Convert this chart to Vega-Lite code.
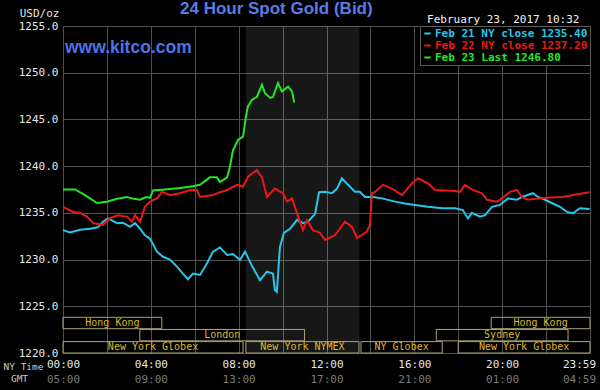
{
  "$schema": "https://vega.github.io/schema/vega-lite/v6.json",
  "width": 527,
  "height": 327,
  "autosize": {"type": "none"},
  "padding": {"left": 63, "top": 26, "right": 10, "bottom": 37},
  "background": "#000000",
  "config": {
    "view": {"stroke": "#5c5c5c", "strokeWidth": 1},
    "font": "DejaVu Sans Mono"
  },
  "title": {
    "text": "24 Hour Spot Gold (Bid)",
    "anchor": "start",
    "frame": "group",
    "dx": 117,
    "dy": 15,
    "offset": 4,
    "color": "#5b7be6",
    "font": "Liberation Sans",
    "fontSize": 17,
    "fontWeight": "bold"
  },
  "datasets": {
    "prices": [
      {"series": "Feb 21 NY close 1235.40", "hour": 0, "price": 1233.15},
      {"series": "Feb 21 NY close 1235.40", "hour": 0.32, "price": 1232.9},
      {"series": "Feb 21 NY close 1235.40", "hour": 0.77, "price": 1233.2},
      {"series": "Feb 21 NY close 1235.40", "hour": 1.23, "price": 1233.3},
      {"series": "Feb 21 NY close 1235.40", "hour": 1.59, "price": 1233.45},
      {"series": "Feb 21 NY close 1235.40", "hour": 1.82, "price": 1234.05},
      {"series": "Feb 21 NY close 1235.40", "hour": 2.05, "price": 1234.4},
      {"series": "Feb 21 NY close 1235.40", "hour": 2.46, "price": 1233.9},
      {"series": "Feb 21 NY close 1235.40", "hour": 2.73, "price": 1233.95},
      {"series": "Feb 21 NY close 1235.40", "hour": 3.05, "price": 1233.5},
      {"series": "Feb 21 NY close 1235.40", "hour": 3.28, "price": 1233.9},
      {"series": "Feb 21 NY close 1235.40", "hour": 3.51, "price": 1233.3},
      {"series": "Feb 21 NY close 1235.40", "hour": 3.73, "price": 1232.6},
      {"series": "Feb 21 NY close 1235.40", "hour": 3.96, "price": 1232.25},
      {"series": "Feb 21 NY close 1235.40", "hour": 4.28, "price": 1230.85},
      {"series": "Feb 21 NY close 1235.40", "hour": 4.55, "price": 1230.3},
      {"series": "Feb 21 NY close 1235.40", "hour": 4.87, "price": 1230.0},
      {"series": "Feb 21 NY close 1235.40", "hour": 5.19, "price": 1229.25},
      {"series": "Feb 21 NY close 1235.40", "hour": 5.46, "price": 1228.5},
      {"series": "Feb 21 NY close 1235.40", "hour": 5.69, "price": 1227.9},
      {"series": "Feb 21 NY close 1235.40", "hour": 5.92, "price": 1228.5},
      {"series": "Feb 21 NY close 1235.40", "hour": 6.24, "price": 1228.35},
      {"series": "Feb 21 NY close 1235.40", "hour": 6.56, "price": 1229.6},
      {"series": "Feb 21 NY close 1235.40", "hour": 6.83, "price": 1230.85},
      {"series": "Feb 21 NY close 1235.40", "hour": 7.15, "price": 1231.3},
      {"series": "Feb 21 NY close 1235.40", "hour": 7.47, "price": 1230.5},
      {"series": "Feb 21 NY close 1235.40", "hour": 7.74, "price": 1230.6},
      {"series": "Feb 21 NY close 1235.40", "hour": 8.06, "price": 1229.95},
      {"series": "Feb 21 NY close 1235.40", "hour": 8.29, "price": 1230.85},
      {"series": "Feb 21 NY close 1235.40", "hour": 8.61, "price": 1229.3},
      {"series": "Feb 21 NY close 1235.40", "hour": 8.97, "price": 1227.8},
      {"series": "Feb 21 NY close 1235.40", "hour": 9.29, "price": 1228.7},
      {"series": "Feb 21 NY close 1235.40", "hour": 9.56, "price": 1228.5},
      {"series": "Feb 21 NY close 1235.40", "hour": 9.65, "price": 1226.75},
      {"series": "Feb 21 NY close 1235.40", "hour": 9.74, "price": 1226.55},
      {"series": "Feb 21 NY close 1235.40", "hour": 9.88, "price": 1231.35},
      {"series": "Feb 21 NY close 1235.40", "hour": 10.06, "price": 1232.85},
      {"series": "Feb 21 NY close 1235.40", "hour": 10.34, "price": 1233.3},
      {"series": "Feb 21 NY close 1235.40", "hour": 10.66, "price": 1234.25},
      {"series": "Feb 21 NY close 1235.40", "hour": 10.93, "price": 1233.9},
      {"series": "Feb 21 NY close 1235.40", "hour": 11.16, "price": 1234.05},
      {"series": "Feb 21 NY close 1235.40", "hour": 11.48, "price": 1234.9},
      {"series": "Feb 21 NY close 1235.40", "hour": 11.66, "price": 1237.2},
      {"series": "Feb 21 NY close 1235.40", "hour": 11.93, "price": 1237.25},
      {"series": "Feb 21 NY close 1235.40", "hour": 12.25, "price": 1237.1},
      {"series": "Feb 21 NY close 1235.40", "hour": 12.48, "price": 1237.6},
      {"series": "Feb 21 NY close 1235.40", "hour": 12.7, "price": 1238.7},
      {"series": "Feb 21 NY close 1235.40", "hour": 12.98, "price": 1238.0},
      {"series": "Feb 21 NY close 1235.40", "hour": 13.3, "price": 1237.25},
      {"series": "Feb 21 NY close 1235.40", "hour": 13.52, "price": 1237.25},
      {"series": "Feb 21 NY close 1235.40", "hour": 13.75, "price": 1236.7},
      {"series": "Feb 21 NY close 1235.40", "hour": 14.12, "price": 1236.7},
      {"series": "Feb 21 NY close 1235.40", "hour": 14.53, "price": 1236.55},
      {"series": "Feb 21 NY close 1235.40", "hour": 15.12, "price": 1236.2},
      {"series": "Feb 21 NY close 1235.40", "hour": 15.57, "price": 1236.0},
      {"series": "Feb 21 NY close 1235.40", "hour": 16.03, "price": 1235.85},
      {"series": "Feb 21 NY close 1235.40", "hour": 16.62, "price": 1235.65},
      {"series": "Feb 21 NY close 1235.40", "hour": 17.26, "price": 1235.5},
      {"series": "Feb 21 NY close 1235.40", "hour": 17.85, "price": 1235.5},
      {"series": "Feb 21 NY close 1235.40", "hour": 18.21, "price": 1235.3},
      {"series": "Feb 21 NY close 1235.40", "hour": 18.44, "price": 1234.4},
      {"series": "Feb 21 NY close 1235.40", "hour": 18.62, "price": 1235.0},
      {"series": "Feb 21 NY close 1235.40", "hour": 18.99, "price": 1234.6},
      {"series": "Feb 21 NY close 1235.40", "hour": 19.22, "price": 1234.75},
      {"series": "Feb 21 NY close 1235.40", "hour": 19.54, "price": 1235.65},
      {"series": "Feb 21 NY close 1235.40", "hour": 19.9, "price": 1235.85},
      {"series": "Feb 21 NY close 1235.40", "hour": 20.26, "price": 1236.55},
      {"series": "Feb 21 NY close 1235.40", "hour": 20.67, "price": 1236.4},
      {"series": "Feb 21 NY close 1235.40", "hour": 20.9, "price": 1236.7},
      {"series": "Feb 21 NY close 1235.40", "hour": 21.4, "price": 1237.1},
      {"series": "Feb 21 NY close 1235.40", "hour": 21.63, "price": 1236.7},
      {"series": "Feb 21 NY close 1235.40", "hour": 21.95, "price": 1236.4},
      {"series": "Feb 21 NY close 1235.40", "hour": 22.31, "price": 1236.0},
      {"series": "Feb 21 NY close 1235.40", "hour": 22.63, "price": 1235.65},
      {"series": "Feb 21 NY close 1235.40", "hour": 22.95, "price": 1235.1},
      {"series": "Feb 21 NY close 1235.40", "hour": 23.22, "price": 1234.95},
      {"series": "Feb 21 NY close 1235.40", "hour": 23.54, "price": 1235.5},
      {"series": "Feb 21 NY close 1235.40", "hour": 23.98, "price": 1235.4},
      {"series": "Feb 22 NY close 1237.20", "hour": 0, "price": 1235.65},
      {"series": "Feb 22 NY close 1237.20", "hour": 0.46, "price": 1235.1},
      {"series": "Feb 22 NY close 1237.20", "hour": 0.77, "price": 1235.0},
      {"series": "Feb 22 NY close 1237.20", "hour": 1.09, "price": 1234.6},
      {"series": "Feb 22 NY close 1237.20", "hour": 1.37, "price": 1233.9},
      {"series": "Feb 22 NY close 1237.20", "hour": 1.82, "price": 1233.7},
      {"series": "Feb 22 NY close 1237.20", "hour": 2.14, "price": 1234.45},
      {"series": "Feb 22 NY close 1237.20", "hour": 2.5, "price": 1234.75},
      {"series": "Feb 22 NY close 1237.20", "hour": 2.91, "price": 1234.6},
      {"series": "Feb 22 NY close 1237.20", "hour": 3.14, "price": 1234.05},
      {"series": "Feb 22 NY close 1237.20", "hour": 3.28, "price": 1234.75},
      {"series": "Feb 22 NY close 1237.20", "hour": 3.51, "price": 1234.05},
      {"series": "Feb 22 NY close 1237.20", "hour": 3.73, "price": 1235.65},
      {"series": "Feb 22 NY close 1237.20", "hour": 3.96, "price": 1236.2},
      {"series": "Feb 22 NY close 1237.20", "hour": 4.28, "price": 1236.55},
      {"series": "Feb 22 NY close 1237.20", "hour": 4.51, "price": 1237.25},
      {"series": "Feb 22 NY close 1237.20", "hour": 4.87, "price": 1236.9},
      {"series": "Feb 22 NY close 1237.20", "hour": 5.33, "price": 1237.1},
      {"series": "Feb 22 NY close 1237.20", "hour": 5.78, "price": 1237.45},
      {"series": "Feb 22 NY close 1237.20", "hour": 6.1, "price": 1237.45},
      {"series": "Feb 22 NY close 1237.20", "hour": 6.24, "price": 1236.7},
      {"series": "Feb 22 NY close 1237.20", "hour": 6.83, "price": 1236.9},
      {"series": "Feb 22 NY close 1237.20", "hour": 7.15, "price": 1237.2},
      {"series": "Feb 22 NY close 1237.20", "hour": 7.47, "price": 1237.45},
      {"series": "Feb 22 NY close 1237.20", "hour": 7.92, "price": 1238.0},
      {"series": "Feb 22 NY close 1237.20", "hour": 8.2, "price": 1237.8},
      {"series": "Feb 22 NY close 1237.20", "hour": 8.42, "price": 1238.85},
      {"series": "Feb 22 NY close 1237.20", "hour": 8.83, "price": 1239.6},
      {"series": "Feb 22 NY close 1237.20", "hour": 9.06, "price": 1238.8},
      {"series": "Feb 22 NY close 1237.20", "hour": 9.29, "price": 1236.7},
      {"series": "Feb 22 NY close 1237.20", "hour": 9.65, "price": 1237.6},
      {"series": "Feb 22 NY close 1237.20", "hour": 10.02, "price": 1237.1},
      {"series": "Feb 22 NY close 1237.20", "hour": 10.2, "price": 1236.2},
      {"series": "Feb 22 NY close 1237.20", "hour": 10.43, "price": 1236.55},
      {"series": "Feb 22 NY close 1237.20", "hour": 10.66, "price": 1234.95},
      {"series": "Feb 22 NY close 1237.20", "hour": 10.93, "price": 1233.15},
      {"series": "Feb 22 NY close 1237.20", "hour": 11.11, "price": 1234.2},
      {"series": "Feb 22 NY close 1237.20", "hour": 11.38, "price": 1233.15},
      {"series": "Feb 22 NY close 1237.20", "hour": 11.7, "price": 1232.85},
      {"series": "Feb 22 NY close 1237.20", "hour": 11.93, "price": 1232.1},
      {"series": "Feb 22 NY close 1237.20", "hour": 12.39, "price": 1232.6},
      {"series": "Feb 22 NY close 1237.20", "hour": 12.84, "price": 1234.05},
      {"series": "Feb 22 NY close 1237.20", "hour": 13.16, "price": 1233.5},
      {"series": "Feb 22 NY close 1237.20", "hour": 13.39, "price": 1232.3},
      {"series": "Feb 22 NY close 1237.20", "hour": 13.84, "price": 1233.0},
      {"series": "Feb 22 NY close 1237.20", "hour": 13.98, "price": 1233.7},
      {"series": "Feb 22 NY close 1237.20", "hour": 14.07, "price": 1237.1},
      {"series": "Feb 22 NY close 1237.20", "hour": 14.21, "price": 1237.25},
      {"series": "Feb 22 NY close 1237.20", "hour": 14.57, "price": 1238.0},
      {"series": "Feb 22 NY close 1237.20", "hour": 14.98, "price": 1237.6},
      {"series": "Feb 22 NY close 1237.20", "hour": 15.44, "price": 1236.9},
      {"series": "Feb 22 NY close 1237.20", "hour": 15.89, "price": 1238.15},
      {"series": "Feb 22 NY close 1237.20", "hour": 16.17, "price": 1238.7},
      {"series": "Feb 22 NY close 1237.20", "hour": 16.62, "price": 1238.15},
      {"series": "Feb 22 NY close 1237.20", "hour": 16.94, "price": 1237.45},
      {"series": "Feb 22 NY close 1237.20", "hour": 17.85, "price": 1237.35},
      {"series": "Feb 22 NY close 1237.20", "hour": 18.08, "price": 1237.25},
      {"series": "Feb 22 NY close 1237.20", "hour": 18.31, "price": 1238.0},
      {"series": "Feb 22 NY close 1237.20", "hour": 18.67, "price": 1237.45},
      {"series": "Feb 22 NY close 1237.20", "hour": 19.08, "price": 1237.1},
      {"series": "Feb 22 NY close 1237.20", "hour": 19.31, "price": 1236.4},
      {"series": "Feb 22 NY close 1237.20", "hour": 19.76, "price": 1236.2},
      {"series": "Feb 22 NY close 1237.20", "hour": 19.99, "price": 1236.55},
      {"series": "Feb 22 NY close 1237.20", "hour": 20.36, "price": 1237.25},
      {"series": "Feb 22 NY close 1237.20", "hour": 20.67, "price": 1237.45},
      {"series": "Feb 22 NY close 1237.20", "hour": 20.9, "price": 1236.7},
      {"series": "Feb 22 NY close 1237.20", "hour": 21.17, "price": 1236.4},
      {"series": "Feb 22 NY close 1237.20", "hour": 21.72, "price": 1236.55},
      {"series": "Feb 22 NY close 1237.20", "hour": 22.18, "price": 1236.65},
      {"series": "Feb 22 NY close 1237.20", "hour": 22.77, "price": 1236.7},
      {"series": "Feb 22 NY close 1237.20", "hour": 23.41, "price": 1237.0},
      {"series": "Feb 22 NY close 1237.20", "hour": 23.98, "price": 1237.2},
      {"series": "Feb 23 Last 1246.80", "hour": 0, "price": 1237.5},
      {"series": "Feb 23 Last 1246.80", "hour": 0.55, "price": 1237.5},
      {"series": "Feb 23 Last 1246.80", "hour": 1.0, "price": 1236.9},
      {"series": "Feb 23 Last 1246.80", "hour": 1.55, "price": 1236.05},
      {"series": "Feb 23 Last 1246.80", "hour": 2.0, "price": 1236.2},
      {"series": "Feb 23 Last 1246.80", "hour": 2.46, "price": 1236.5},
      {"series": "Feb 23 Last 1246.80", "hour": 2.91, "price": 1236.7},
      {"series": "Feb 23 Last 1246.80", "hour": 3.23, "price": 1236.5},
      {"series": "Feb 23 Last 1246.80", "hour": 3.51, "price": 1236.4},
      {"series": "Feb 23 Last 1246.80", "hour": 3.78, "price": 1236.7},
      {"series": "Feb 23 Last 1246.80", "hour": 3.96, "price": 1236.6},
      {"series": "Feb 23 Last 1246.80", "hour": 4.1, "price": 1237.4},
      {"series": "Feb 23 Last 1246.80", "hour": 4.64, "price": 1237.5},
      {"series": "Feb 23 Last 1246.80", "hour": 5.33, "price": 1237.65},
      {"series": "Feb 23 Last 1246.80", "hour": 5.78, "price": 1237.8},
      {"series": "Feb 23 Last 1246.80", "hour": 6.24, "price": 1238.0},
      {"series": "Feb 23 Last 1246.80", "hour": 6.69, "price": 1238.8},
      {"series": "Feb 23 Last 1246.80", "hour": 7.01, "price": 1238.8},
      {"series": "Feb 23 Last 1246.80", "hour": 7.15, "price": 1238.3},
      {"series": "Feb 23 Last 1246.80", "hour": 7.47, "price": 1238.8},
      {"series": "Feb 23 Last 1246.80", "hour": 7.6, "price": 1239.9},
      {"series": "Feb 23 Last 1246.80", "hour": 7.74, "price": 1241.7},
      {"series": "Feb 23 Last 1246.80", "hour": 7.97, "price": 1242.8},
      {"series": "Feb 23 Last 1246.80", "hour": 8.2, "price": 1243.15},
      {"series": "Feb 23 Last 1246.80", "hour": 8.33, "price": 1245.3},
      {"series": "Feb 23 Last 1246.80", "hour": 8.42, "price": 1246.4},
      {"series": "Feb 23 Last 1246.80", "hour": 8.61, "price": 1247.1},
      {"series": "Feb 23 Last 1246.80", "hour": 8.83, "price": 1247.4},
      {"series": "Feb 23 Last 1246.80", "hour": 9.06, "price": 1248.7},
      {"series": "Feb 23 Last 1246.80", "hour": 9.2, "price": 1247.8},
      {"series": "Feb 23 Last 1246.80", "hour": 9.43, "price": 1247.3},
      {"series": "Feb 23 Last 1246.80", "hour": 9.56, "price": 1247.4},
      {"series": "Feb 23 Last 1246.80", "hour": 9.79, "price": 1248.9},
      {"series": "Feb 23 Last 1246.80", "hour": 9.97, "price": 1248.0},
      {"series": "Feb 23 Last 1246.80", "hour": 10.25, "price": 1248.5},
      {"series": "Feb 23 Last 1246.80", "hour": 10.43, "price": 1248.0},
      {"series": "Feb 23 Last 1246.80", "hour": 10.53, "price": 1246.8}
    ],
    "markets": [
      {"market": "Hong Kong", "start": 0, "end": 4.5, "track": 3},
      {"market": "Hong Kong", "start": 19.5, "end": 24, "track": 3},
      {"market": "London", "start": 3.5, "end": 11, "track": 2},
      {"market": "Sydney", "start": 17, "end": 23, "track": 2},
      {"market": "New York Globex", "start": 0, "end": 8.2, "track": 1},
      {"market": "New York NYMEX", "start": 8.33, "end": 13.48, "track": 1},
      {"market": "NY Globex", "start": 13.57, "end": 17.27, "track": 1},
      {"market": "New York Globex", "start": 18, "end": 24, "track": 1}
    ]
  },
  "layer": [
    {
      "data": {"values": [{"session": "NYMEX", "start": 8.333, "end": 13.5}]},
      "mark": {"type": "rect", "fill": "#ffffff", "fillOpacity": 0.09},
      "encoding": {
        "x": {"field": "start", "type": "quantitative", "scale": {"domain": [0, 24], "nice": false, "zero": false}, "axis": null},
        "x2": {"field": "end"}
      }
    },
    {
      "data": {"name": "markets"},
      "transform": [
        {"calculate": "1220 + (datum.track - 1) * 1.3", "as": "low"},
        {"calculate": "1220 + (datum.track - 1) * 1.3 + 1.22", "as": "high"},
        {"calculate": "1220 + (datum.track - 1) * 1.3 + 0.61", "as": "center"},
        {"calculate": "(datum.start + datum.end) / 2", "as": "mid"}
      ],
      "layer": [
        {
          "mark": {"type": "rect", "fill": null, "fillOpacity": 0, "stroke": "#aca474", "strokeWidth": 1},
          "encoding": {
            "x": {"field": "start", "type": "quantitative", "scale": {"domain": [0, 24], "nice": false, "zero": false}, "axis": null},
            "x2": {"field": "end"},
            "y": {"field": "high", "type": "quantitative", "scale": {"domain": [1220, 1255], "nice": false, "zero": false}, "axis": null},
            "y2": {"field": "low"}
          }
        },
        {
          "mark": {"type": "text", "font": "DejaVu Sans Mono", "fontSize": 10, "color": "#dcb830", "baseline": "middle", "align": "center"},
          "encoding": {
            "x": {"field": "mid", "type": "quantitative", "scale": {"domain": [0, 24], "nice": false, "zero": false}, "axis": null},
            "y": {"field": "center", "type": "quantitative", "scale": {"domain": [1220, 1255], "nice": false, "zero": false}, "axis": null},
            "text": {"field": "market"}
          }
        }
      ]
    },
    {
      "data": {"name": "prices"},
      "mark": {"type": "line", "strokeWidth": 2, "interpolate": "linear"},
      "encoding": {
        "x": {
          "field": "hour", "type": "quantitative",
          "scale": {"domain": [0, 24], "nice": false, "zero": false},
          "axis": {
            "orient": "bottom",
            "values": [0, 2, 4, 6, 8, 10, 12, 14, 16, 18, 20, 22, 24],
            "labelExpr": "datum.value % 4 != 0 ? '' : (datum.value == 24 ? '23:59' : (datum.value < 10 ? '0' : '') + datum.value + ':00')",
            "labelFlush": false,
            "labelOffset": {"condition": {"test": "datum.value == 24", "value": -11}, "value": 0},
            "labelColor": "#e6e6e6",
            "labelFont": "DejaVu Sans Mono",
            "labelFontSize": 11,
            "labelPadding": 5,
            "labelOverlap": false,
            "ticks": false,
            "domain": false,
            "grid": true,
            "gridColor": "#505050",
            "gridWidth": 1,
            "title": "NY Time",
            "titleFont": "DejaVu Sans Mono",
            "titleFontSize": 9.5,
            "titleFontWeight": "normal",
            "titleColor": "#cccccc",
            "titleX": -40,
            "titleY": 13,
            "titleAlign": "center",
            "titleBaseline": "middle",
            "titleAngle": 0
          }
        },
        "y": {
          "field": "price", "type": "quantitative",
          "scale": {"domain": [1220, 1255], "nice": false, "zero": false},
          "axis": {
            "orient": "left",
            "values": [1220, 1225, 1230, 1235, 1240, 1245, 1250, 1255],
            "format": ".1f",
            "labelColor": "#e6e6e6",
            "labelFont": "DejaVu Sans Mono",
            "labelFontSize": 11,
            "labelPadding": 5,
            "labelFlush": false,
            "ticks": false,
            "domain": false,
            "grid": true,
            "gridColor": "#505050",
            "title": "USD/oz",
            "titleFont": "DejaVu Sans Mono",
            "titleFontSize": 11,
            "titleFontWeight": "normal",
            "titleColor": "#e6e6e6",
            "titleAngle": 0,
            "titleX": -4,
            "titleY": -13,
            "titleAlign": "right",
            "titleBaseline": "middle"
          }
        },
        "color": {
          "field": "series", "type": "nominal",
          "scale": {
            "domain": ["Feb 21 NY close 1235.40", "Feb 22 NY close 1237.20", "Feb 23 Last 1246.80"],
            "range": ["#26c6ea", "#e81818", "#22e622"]
          },
          "legend": {
            "orient": "top-right",
            "offset": 0,
            "title": null,
            "fillColor": "#000000",
            "strokeColor": "#5c5c5c",
            "padding": 2,
            "rowPadding": 0,
            "symbolType": "stroke",
            "symbolSize": 40,
            "symbolStrokeWidth": 2,
            "labelOffset": 2,
            "labelFont": "DejaVu Sans Mono",
            "labelFontSize": 11,
            "labelFontWeight": "bold",
            "labelLimit": 300,
            "encode": {"labels": {"update": {"fill": {"scale": "color", "field": "value"}}}}
          }
        },
        "order": {"field": "hour", "type": "quantitative"}
      }
    },
    {
      "data": {"values": [{"label": "www.kitco.com"}]},
      "mark": {"type": "text", "align": "left", "baseline": "alphabetic", "font": "Liberation Sans", "fontSize": 17.5, "fontWeight": "bold", "color": "#4f72e8"},
      "encoding": {
        "x": {"datum": 0.09, "type": "quantitative", "axis": null},
        "y": {"datum": 1252.15, "type": "quantitative", "axis": null},
        "text": {"field": "label"}
      }
    },
    {
      "data": {"values": [{"label": "February 23, 2017 10:32"}]},
      "mark": {"type": "text", "align": "left", "baseline": "alphabetic", "font": "DejaVu Sans Mono", "fontSize": 11, "color": "#f0f0f0"},
      "encoding": {
        "x": {"datum": 16.58, "type": "quantitative", "axis": null},
        "y": {"datum": 1255.32, "type": "quantitative", "axis": null},
        "text": {"field": "label"}
      }
    },
    {
      "data": {"values": [{"hour": 0}, {"hour": 24}]},
      "mark": {"type": "rule", "strokeOpacity": 0},
      "encoding": {
        "x": {
          "field": "hour", "type": "quantitative",
          "scale": {"domain": [0, 24], "nice": false, "zero": false},
          "axis": {
            "orient": "bottom",
            "values": [0, 4, 8, 12, 16, 20, 24],
            "labelExpr": "datum.value == 24 ? '04:59' : ((datum.value + 5) % 24 < 10 ? '0' : '') + ((datum.value + 5) % 24) + ':00'",
            "labelFlush": false,
            "labelOffset": {"condition": {"test": "datum.value == 24", "value": -11}, "value": 0},
            "labelColor": "#7a7a7a",
            "labelFont": "DejaVu Sans Mono",
            "labelFontSize": 11,
            "labelPadding": 20,
            "labelOverlap": false,
            "ticks": false,
            "domain": false,
            "grid": false,
            "title": "GMT",
            "titleFont": "DejaVu Sans Mono",
            "titleFontSize": 9.5,
            "titleFontWeight": "normal",
            "titleColor": "#cccccc",
            "titleX": -44,
            "titleY": 25,
            "titleAlign": "center",
            "titleBaseline": "middle",
            "titleAngle": 0
          }
        }
      }
    }
  ],
  "resolve": {"axis": {"x": "independent", "y": "independent"}}
}
